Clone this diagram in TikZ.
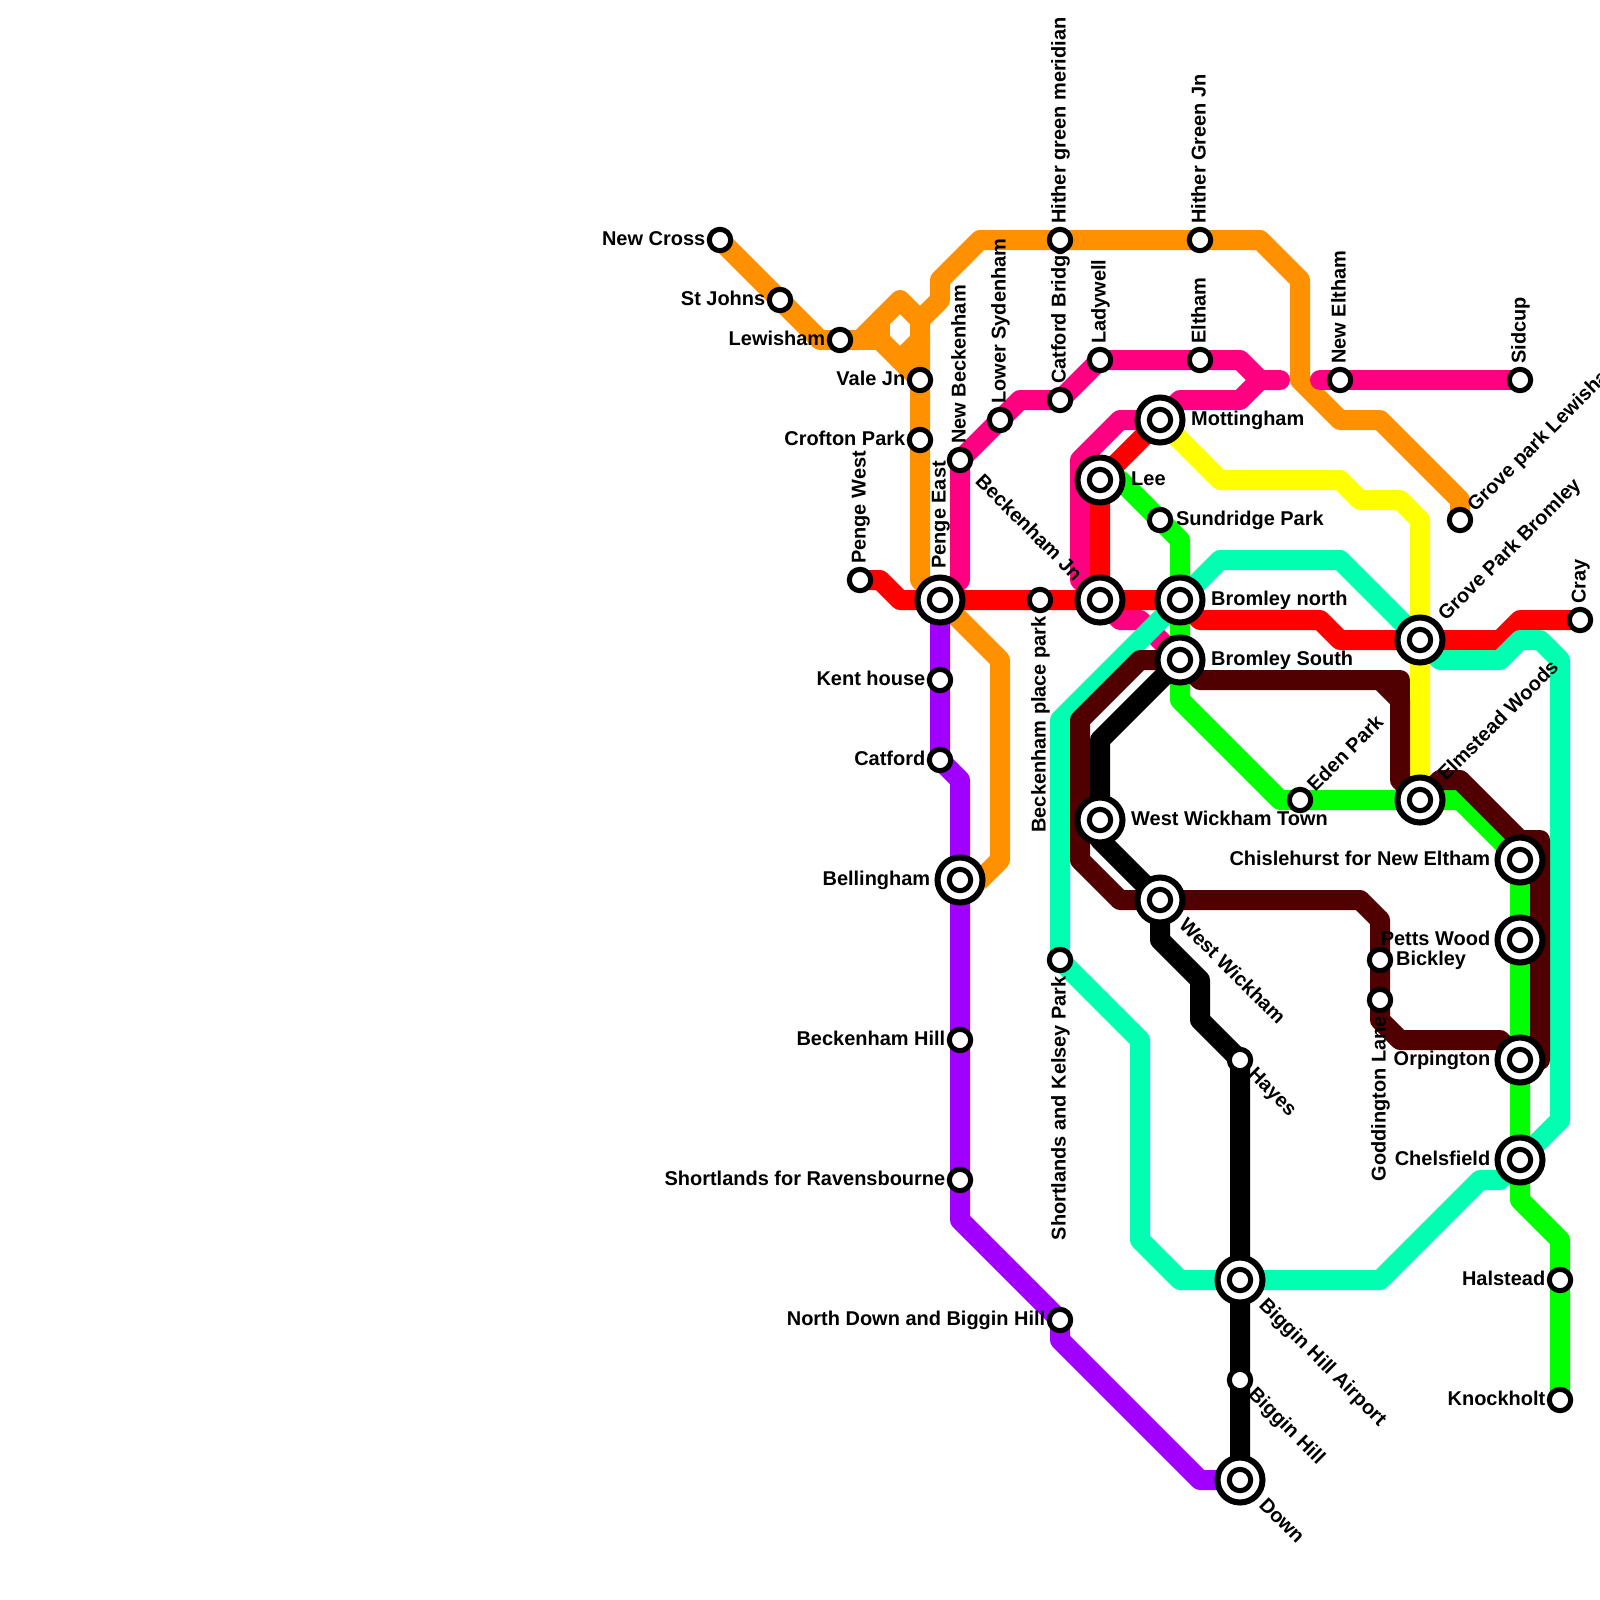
\documentclass[tikz,border=0pt]{standalone}
\usepackage{fontspec}
\setmainfont{Liberation Sans}
\usetikzlibrary{arrows.meta,positioning,calc}
\definecolor{orcolor}{RGB}{255,145,0}
\definecolor{pkcolor}{RGB}{255,0,128}
\definecolor{pucolor}{RGB}{160,0,255}
\definecolor{grcolor}{RGB}{0,255,0}
\definecolor{tecolor}{RGB}{0,255,176}
\definecolor{ylcolor}{RGB}{255,255,0}
\definecolor{brcolor}{RGB}{80,0,0}
\pgfdeclarelayer{lines}
\pgfsetlayers{lines,main}
\tikzset{
  tube/.style={line width=0.5cm, line join=round, line cap=round},
  smallstn/.style={circle, draw=black, fill=white, line width=3.6pt, minimum size=15.2pt, inner sep=0pt, outer sep=0pt},
  bigstn/.style={circle, draw=black, fill=white, line width=4.3pt, minimum size=32pt, inner sep=0pt, outer sep=0pt},
  lbl/.style={font=\fontsize{14.2}{14.2}\selectfont\bfseries, inner sep=0pt, text height=10.6pt, text depth=2.6pt}
}
\newcommand{\smallstnoff}{11.3pt}
\newcommand{\bigstnoff}{22pt}
% station, label running outward at angle #5
\newcommand{\stnpt}[6]{%
  \node[#1] (#2) at (#3,#4) {};
  \node[lbl, rotate=#5, anchor=west] (#2t) at ($(#2)+(#5:\csname #1off\endcsname)$) {#6};
}
% station, label to its left
\newcommand{\stnleft}[5]{%
  \node[#1] (#2) at (#3,#4) {};
  \node[lbl, anchor=east, xshift=1pt] (#2t) at ($(#2)+(180:\csname #1off\endcsname)$) {#5};
}
% station, label ending at the station; #5 is the side it sits on, #6 the turn
\newcommand{\stnend}[7]{%
  \node[#1] (#2) at (#3,#4) {};
  \node[lbl, rotate=#6, anchor=east] (#2t) at ($(#2)+(#5:\csname #1off\endcsname)$) {#7};
}
\newcommand{\bigpt}[1]{\node[smallstn] (#1d) at (#1) {};}
\begin{document}
\begin{tikzpicture}[x=0.5cm,y=-0.5cm]
  \useasboundingbox (0,0) rectangle (80,80);
  % stations
  \stnleft{smallstn}{newcross}{36}{12}{New Cross}
  \stnleft{smallstn}{stjohns}{39}{15}{St Johns}
  \stnleft{smallstn}{lewisham}{42}{17}{Lewisham}
  \stnleft{smallstn}{valejn}{46}{19}{Vale Jn}
  \stnleft{smallstn}{croftonpark}{46}{22}{Crofton Park}
  \stnpt{smallstn}{pengewest}{43}{29}{90}{Penge West}
  \stnpt{bigstn}{pengeeast}{47}{30}{90}{Penge East}
  \stnpt{smallstn}{newbeck}{48}{23}{90}{New Beckenham}
  \stnpt{smallstn}{lowersyd}{50}{21}{90}{Lower Sydenham}
  \stnpt{smallstn}{catfordbr}{53}{20}{90}{Catford Bridge}
  \stnpt{smallstn}{ladywell}{55}{18}{90}{Ladywell}
  \stnpt{smallstn}{hithermer}{53}{12}{90}{Hither green meridian}
  \stnpt{smallstn}{hitherjn}{60}{12}{90}{Hither Green Jn}
  \stnpt{smallstn}{eltham}{60}{18}{90}{Eltham}
  \stnpt{smallstn}{neweltham}{67}{19}{90}{New Eltham}
  \stnpt{smallstn}{sidcup}{76}{19}{90}{Sidcup}
  \stnpt{smallstn}{gplewisham}{73}{26}{45}{Grove park Lewisham}
  \stnpt{bigstn}{mottingham}{58}{21}{0}{Mottingham}
  \stnpt{bigstn}{lee}{55}{24}{0}{Lee}
  \stnpt{smallstn}{sundridge}{58}{26}{0}{Sundridge Park}
  \stnend{bigstn}{beckjn}{55}{30}{135}{-45}{Beckenham Jn}
  \stnend{smallstn}{beckplace}{52}{30}{270}{90}{Beckenham place park}
  \stnpt{bigstn}{bromnorth}{59}{30}{0}{Bromley north}
  \stnpt{bigstn}{bromsouth}{59}{33}{0}{Bromley South}
  \stnpt{bigstn}{gpbromley}{71}{32}{45}{Grove Park Bromley}
  \stnpt{smallstn}{cray}{79}{31}{90}{Cray}
  \stnpt{bigstn}{elmstead}{71}{40}{45}{Elmstead Woods}
  \stnpt{smallstn}{edenpark}{65}{40}{45}{Eden Park}
  \stnpt{bigstn}{wwtown}{55}{41}{0}{West Wickham Town}
  \stnpt{bigstn}{wwickham}{58}{45}{-45}{West Wickham}
  \stnpt{smallstn}{hayes}{62}{53}{-45}{Hayes}
  \stnpt{smallstn}{bickley}{69}{48}{0}{Bickley}
  \stnend{smallstn}{goddington}{69}{50}{270}{90}{Goddington Lane}
  \stnleft{bigstn}{chislehurst}{76}{43}{Chislehurst for New Eltham}
  \stnleft{bigstn}{pettswood}{76}{47}{Petts Wood}
  \stnleft{bigstn}{orpington}{76}{53}{Orpington}
  \stnleft{bigstn}{chelsfield}{76}{58}{Chelsfield}
  \stnleft{smallstn}{halstead}{78}{64}{Halstead}
  \stnleft{smallstn}{knockholt}{78}{70}{Knockholt}
  \stnleft{smallstn}{kenthouse}{47}{34}{Kent house}
  \stnleft{smallstn}{catford}{47}{38}{Catford}
  \stnleft{bigstn}{bellingham}{48}{44}{Bellingham}
  \stnleft{smallstn}{beckhill}{48}{52}{Beckenham Hill}
  \stnleft{smallstn}{shortraven}{48}{59}{Shortlands for Ravensbourne}
  \stnleft{smallstn}{northdown}{53}{66}{North Down and Biggin Hill}
  \stnend{smallstn}{shortkelsey}{53}{48}{270}{90}{Shortlands and Kelsey Park}
  \stnpt{bigstn}{bigginair}{62}{64}{-45}{Biggin Hill Airport}
  \stnpt{smallstn}{bigginhill}{62}{69}{-45}{Biggin Hill}
  \stnpt{bigstn}{down}{62}{74}{-45}{Down}
  \foreach \s in {pengeeast,mottingham,lee,beckjn,bromnorth,bromsouth,gpbromley,elmstead,wwtown,wwickham,
                  chislehurst,pettswood,orpington,chelsfield,bellingham,bigginair,down} {
    \bigpt{\s}
  }
  % lines, behind the stations
  \begin{pgfonlayer}{lines}
    \fill[white] (0,0) rectangle (80,80);
    \draw[tube, orcolor] (newcross.center) -- (stjohns.center) -- (41,17) -- (lewisham.center) -- (43,17) -- (45,15) -- (46,16)
      -- (valejn.center) -- (croftonpark.center) -- (46,29) -- (pengeeast.center) -- (50,33) -- (50,43) -- (49,44);
    \draw[tube, orcolor] (43,17) -- (44,17) -- (44,16);
    \draw[tube, orcolor] (44,17) -- (valejn.center);
    \draw[tube, orcolor] (45,18) -- (46,17);
    \draw[tube, orcolor] (46,16) -- (47,15) -- (47,14) -- (49,12) -- (hithermer.center) -- (hitherjn.center) -- (63,12)
      -- (65,14) -- (65,19) -- (67,21) -- (69,21) -- (73,25) -- (gplewisham.center);
    \draw[tube, pkcolor] (pengeeast.center) -- (48,29) -- (newbeck.center) -- (lowersyd.center) -- (51,20) -- (catfordbr.center)
      -- (ladywell.center) -- (eltham.center) -- (62,18) -- (63,19) -- (64,19);
    \draw[tube, pkcolor] (neweltham.center) -- (66,19);
    \draw[tube, pkcolor] (neweltham.center) -- (sidcup.center);
    \draw[tube, pkcolor] (63,19) -- (62,20) -- (59,20) -- (mottingham.center) -- (56,21) -- (54,23) -- (54,29) -- (beckjn.center)
      -- (56,31) -- (57,31) -- (bromsouth.center);
    \draw[tube, pucolor] (pengeeast.center) -- (kenthouse.center) -- (catford.center) -- (48,39) -- (bellingham.center)
      -- (beckhill.center) -- (shortraven.center) -- (48,61) -- (northdown.center) -- (53,67) -- (60,74) -- (down.center);
    \draw[tube, red] (pengewest.center) -- (44,29) -- (45,30) -- (pengeeast.center) -- (beckplace.center) -- (beckjn.center) -- (bromnorth.center)
      -- (60,31) -- (66,31) -- (67,32) -- (gpbromley.center) -- (75,32) -- (76,31) -- (cray.center);
    \draw[tube, red] (beckjn.center) -- (lee.center) -- (mottingham.center);
    \draw[tube, grcolor] (lee.center) -- (56,24) -- (sundridge.center) -- (59,27) -- (bromnorth.center) -- (bromsouth.center) -- (59,35)
      -- (64,40) -- (edenpark.center) -- (elmstead.center) -- (73,40) -- (chislehurst.center) -- (pettswood.center) -- (orpington.center)
      -- (chelsfield.center) -- (76,60) -- (78,62) -- (halstead.center) -- (knockholt.center);
    \draw[tube, tecolor] (chelsfield.center) -- (78,56) -- (78,33) -- (77,32) -- (76,32) -- (75,33) -- (72,33) -- (gpbromley.center)
      -- (67,28) -- (61,28) -- (bromnorth.center) -- (53,36) -- (shortkelsey.center) -- (57,52) -- (57,62) -- (59,64)
      -- (bigginair.center) -- (69,64) -- (74,59) -- (75,59) -- (chelsfield.center);
    \draw[tube, ylcolor] (mottingham.center) -- (61,24) -- (67,24) -- (68,25) -- (70,25) -- (71,26) -- (gpbromley.center) -- (elmstead.center);
    \draw[tube, brcolor] (bromsouth.center) -- (57,33) -- (54,36) -- (54,43) -- (56,45) -- (wwickham.center) -- (68,45) -- (69,46)
      -- (bickley.center) -- (goddington.center) -- (69,51) -- (70,52) -- (75,52) -- (orpington.center);
    \draw[tube, brcolor] (bromsouth.center) -- (60,34) -- (69,34) -- (70,35) -- (70,39) -- (elmstead.center) -- (72,39) -- (73,39) -- (76,42)
      -- (77,42) -- (77,53) -- (orpington.center);
    \draw[tube, brcolor] (69,34) -- (70,34) -- (70,35);
    \draw[tube, black] (bromsouth.center) -- (55,37) -- (wwtown.center) -- (55,42) -- (wwickham.center) -- (58,47) -- (60,49) -- (60,51)
      -- (hayes.center) -- (bigginair.center) -- (bigginhill.center) -- (down.center);
  \end{pgfonlayer}
\end{tikzpicture}
\end{document}
